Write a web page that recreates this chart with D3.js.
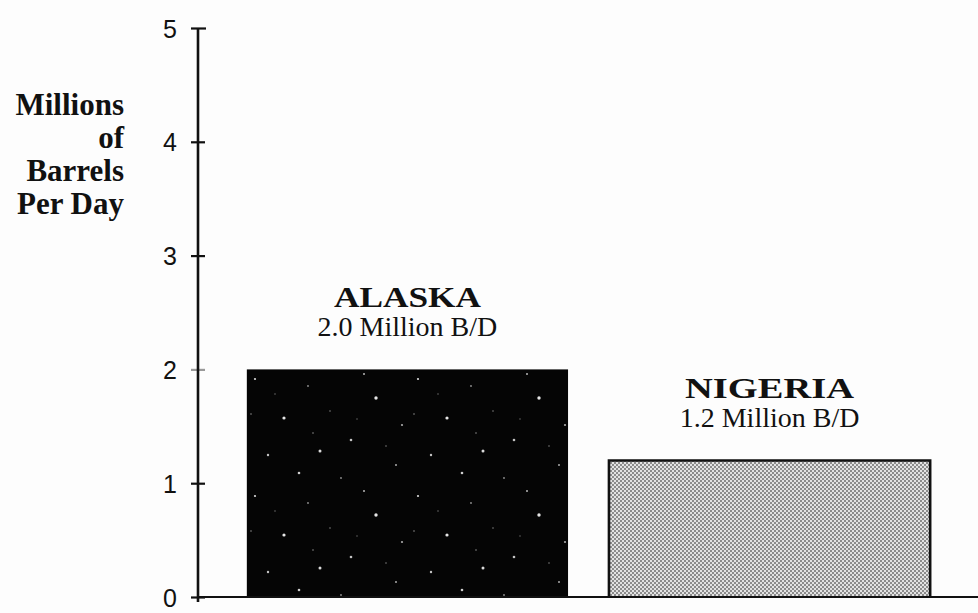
<!DOCTYPE html>
<html>
<head>
<meta charset="utf-8">
<script src="https://cdn.jsdelivr.net/npm/d3@7"></script>
<style>
  html, body { margin: 0; padding: 0; background: #fdfdfd; }
  svg { display: block; }
</style>
</head>
<body>
<svg id="chart" width="978" height="613"></svg>
<script>
// Crude oil production, millions of barrels per day
const regions = ["ALASKA", "NIGERIA"];
const production = [2.0, 1.2];
const valueLabels = ["2.0 Million B/D", "1.2 Million B/D"];
const yTicks = [0, 1, 2, 3, 4, 5];
const yTitleLines = ["Millions", "of", "Barrels", "Per Day"];

const svg = d3.select("#chart");
const defs = svg.append("defs");

// Black fill with scattered light specks
const speck = defs.append("pattern")
  .attr("id", "speck").attr("patternUnits", "userSpaceOnUse")
  .attr("x", 247).attr("y", 367)
  .attr("width", 163).attr("height", 117);
speck.append("rect").attr("width", 163).attr("height", 117).attr("fill", "#050505");
[[8,12,1.1,0.9],[37,51,1.6,0.95],[61,19,0.9,0.6],[104,73,1.3,0.8],[129,31,1.7,0.95],
 [149,98,1.0,0.7],[21,88,1.2,0.8],[83,44,0.8,0.5],[117,7,1.0,0.75],[52,106,1.3,0.85],
 [155,58,1.1,0.7],[4,47,0.8,0.55],[73,84,1.5,0.9],[94,111,0.9,0.6],[139,79,0.8,0.5],
 [28,27,0.7,0.5],[110,52,0.7,0.45],[66,66,0.8,0.55]]
  .forEach(([cx, cy, r, o]) => speck.append("circle")
    .attr("cx", cx).attr("cy", cy).attr("r", r)
    .attr("fill", "#f2f2f2").attr("opacity", o));

// Halftone grey dot screen
const screen = defs.append("pattern")
  .attr("id", "screen").attr("patternUnits", "userSpaceOnUse")
  .attr("width", 4).attr("height", 4);
screen.append("rect").attr("width", 4).attr("height", 4).attr("fill", "#e2e2e2");
screen.append("circle").attr("cx", 1).attr("cy", 1).attr("r", 0.95).attr("fill", "#666");
screen.append("circle").attr("cx", 3).attr("cy", 3).attr("r", 0.95).attr("fill", "#666");

const axisX = 198;
const y = d3.scaleLinear().domain([0, 5]).range([597, 28]);
const x = d3.scaleBand().domain(regions)
  .range([207, 970]).paddingInner(0.113).paddingOuter(0.11);

const fills = ["url(#speck)", "url(#screen)"];
const data = regions.map((r, i) => ({ region: r, value: production[i], label: valueLabels[i], fill: fills[i] }));

// Bars
svg.append("g").selectAll("rect").data(data).join("rect")
  .attr("x", d => x(d.region))
  .attr("y", d => y(d.value))
  .attr("width", x.bandwidth())
  .attr("height", d => y(0) - y(d.value))
  .attr("fill", d => d.fill);

// Outline of the screened bar (top and sides)
const ng = data[1];
svg.append("path")
  .attr("d", `M${x(ng.region)},${y(0)} V${y(ng.value)} H${x(ng.region) + x.bandwidth()} V${y(0)}`)
  .attr("fill", "none").attr("stroke", "#111").attr("stroke-width", 2.6);

// Baseline
svg.append("line")
  .attr("x1", axisX).attr("x2", 978)
  .attr("y1", y(0)).attr("y2", y(0))
  .attr("stroke", "#111").attr("stroke-width", 2.2);

// Y axis
const yAxis = d3.axisLeft(y).tickValues(yTicks).tickFormat(d3.format("d"))
  .tickSize(0).tickPadding(0);
const gy = svg.append("g").attr("transform", `translate(${axisX},0)`).call(yAxis);
gy.select(".domain").remove();
gy.append("line").attr("x1", 0).attr("x2", 0)
  .attr("y1", y(5)).attr("y2", y(0) + 5)
  .attr("stroke", "#111").attr("stroke-width", 2.6);
gy.selectAll(".tick").append("line")
  .attr("x1", -7).attr("x2", d => d === 5 ? 8 : 7)
  .attr("stroke", d => d === 2 ? "#999" : "#111")
  .attr("stroke-width", 2.2);
gy.selectAll(".tick text")
  .attr("x", -21).attr("dy", "0.36em")
  .attr("fill", "#111")
  .style("font-family", "'Liberation Sans', Arial, sans-serif")
  .style("font-size", "25px");

// Y axis title
svg.append("text")
  .attr("text-anchor", "end")
  .style("font-family", "'Liberation Serif', 'Times New Roman', serif")
  .style("font-weight", "bold")
  .style("font-size", "31px")
  .attr("fill", "#111")
  .selectAll("tspan").data(yTitleLines).join("tspan")
  .attr("x", 124)
  .attr("y", (d, i) => 115 + i * 33)
  .text(d => d);

// Region names and values above bars
const nameWidths = { ALASKA: 147, NIGERIA: 169 };
const labels = svg.append("g").selectAll("g").data(data).join("g")
  .attr("transform", d => `translate(${x(d.region) + x.bandwidth() / 2},${y(d.value)})`)
  .style("font-family", "'Liberation Serif', 'Times New Roman', serif")
  .attr("fill", "#111")
  .attr("text-anchor", "middle");
labels.append("text")
  .attr("y", -62)
  .style("font-weight", "bold")
  .style("font-size", "29px")
  .attr("textLength", d => nameWidths[d.region])
  .attr("lengthAdjust", "spacingAndGlyphs")
  .text(d => d.region);
labels.append("text")
  .attr("y", -33)
  .style("font-size", "28px")
  .text(d => d.label);
</script>
</body>
</html>
